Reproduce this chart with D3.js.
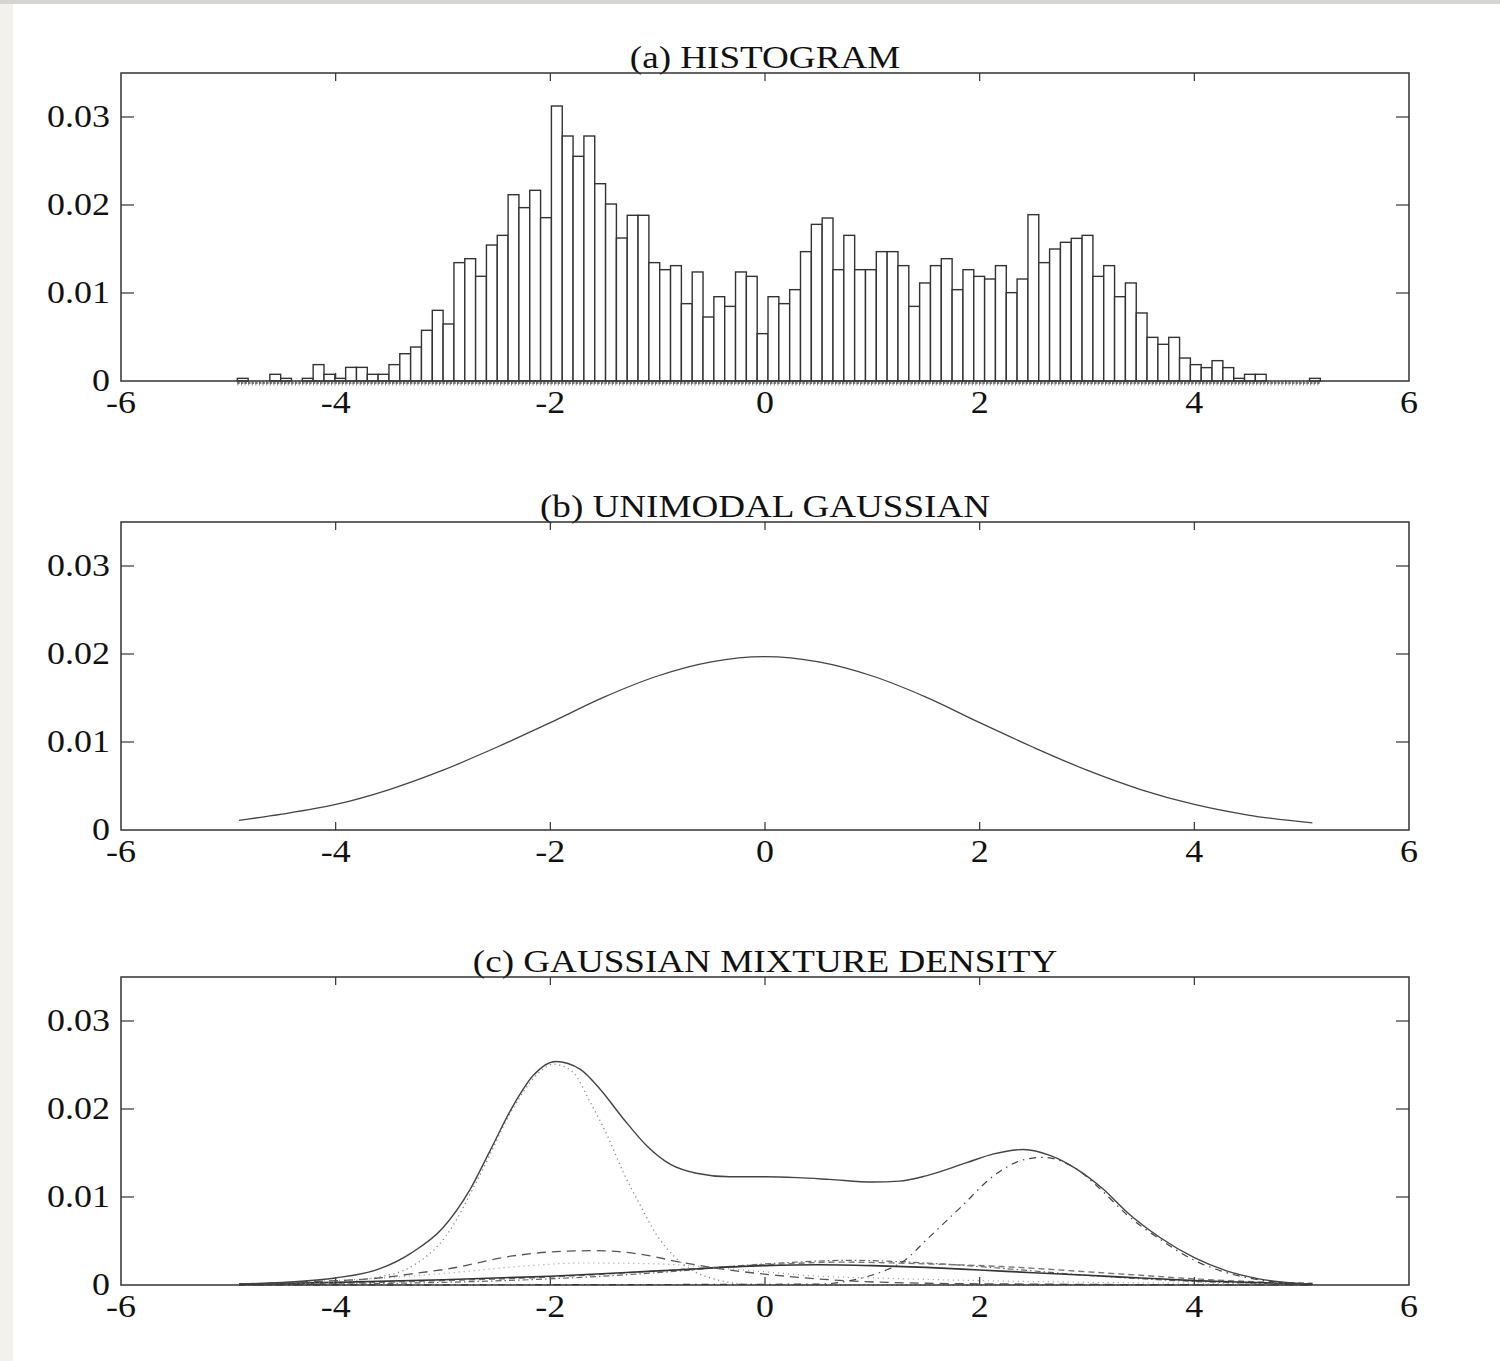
<!DOCTYPE html>
<html>
<head>
<meta charset="utf-8">
<script src="https://cdn.jsdelivr.net/npm/d3@7"></script>
<style>
  html, body { margin: 0; padding: 0; background: #fff; }
  svg { display: block; }
  text { font-family: "Liberation Serif", "DejaVu Serif", serif; fill: #111; }
</style>
</head>
<body>
<div id="chart"></div>
<script>
// histogram: 100 bins, left edge + width
const binStart = -4.916;
const binWidth = 0.1009;
const histDensity = [
  0.0003, 0, 0, 0.00076, 0.0003, 0, 0.0003, 0.00186, 0.00076, 0.0003,
  0.00155, 0.00155, 0.00076, 0.00076, 0.00186, 0.0031, 0.00386, 0.00576, 0.00803, 0.00648,
  0.01345, 0.0139, 0.0119, 0.01545, 0.01655, 0.02117, 0.0197, 0.02167, 0.01856, 0.03125,
  0.02784, 0.02553, 0.02784, 0.02242, 0.02011, 0.01625, 0.01883, 0.01883, 0.01345, 0.01265,
  0.01311, 0.00879, 0.01239, 0.00727, 0.00958, 0.00848, 0.01239, 0.01189, 0.00538, 0.00958,
  0.00879, 0.01038, 0.0147, 0.0178, 0.01852, 0.01265, 0.01655, 0.01265, 0.01265, 0.0147,
  0.0147, 0.01311, 0.00848, 0.01114, 0.01311, 0.0139, 0.01038, 0.01265, 0.01189, 0.01159,
  0.01311, 0.01004, 0.01159, 0.0189, 0.01345, 0.015, 0.01576, 0.01621, 0.01655, 0.01189,
  0.01311, 0.00958, 0.01114, 0.00773, 0.00496, 0.00417, 0.00496, 0.00261, 0.00186, 0.00152,
  0.00231, 0.00152, 0.0003, 0.00076, 0.00076, 0, 0, 0, 0, 0.0003
];

// (b) single gaussian, read at sample points
const unimodal = [
  [-4.9, 0.0011], [-4.5, 0.0018], [-4.0, 0.0029], [-3.5, 0.0046], [-3.0, 0.0068],
  [-2.5, 0.0094], [-2.0, 0.0122], [-1.5, 0.0151], [-1.0, 0.0175], [-0.5, 0.0191],
  [0.0, 0.0197], [0.5, 0.0191], [1.0, 0.0175], [1.5, 0.0151], [2.0, 0.0122],
  [2.5, 0.0094], [3.0, 0.0068], [3.5, 0.0046], [4.0, 0.0029], [4.5, 0.0017], [5.1, 0.0008]
];

// (c) mixture and its components
const mixture = [
  [-4.9, 0.0001], [-4.5, 0.0003], [-4.0, 0.0008], [-3.6, 0.0018], [-3.3, 0.0036],
  [-3.0, 0.0065], [-2.75, 0.0108], [-2.56, 0.0153], [-2.35, 0.0203], [-2.16, 0.0238],
  [-1.95, 0.0254], [-1.72, 0.0245], [-1.54, 0.0223], [-1.32, 0.0189], [-1.10, 0.0158],
  [-0.88, 0.0137], [-0.64, 0.0127], [-0.33, 0.0123], [0.0, 0.0123], [0.3, 0.0122],
  [0.6, 0.0120], [1.0, 0.0117], [1.25, 0.0118], [1.5, 0.0124], [1.88, 0.0139],
  [2.13, 0.0149], [2.41, 0.0154], [2.66, 0.0147], [2.9, 0.0132], [3.15, 0.0109],
  [3.37, 0.0083], [3.68, 0.0054], [4.0, 0.0031], [4.3, 0.0016], [4.6, 0.0007], [5.1, 0.0001]
];
const compNarrow = [
  [-4.9, 0.0], [-4.2, 0.0002], [-3.6, 0.0009], [-3.28, 0.0022], [-2.97, 0.0056],
  [-2.66, 0.0124], [-2.35, 0.0200], [-2.10, 0.0242], [-1.97, 0.0251], [-1.79, 0.0242],
  [-1.63, 0.0208], [-1.47, 0.0170], [-1.32, 0.0128], [-1.16, 0.0090], [-1.01, 0.0057],
  [-0.85, 0.0033], [-0.67, 0.0016], [-0.48, 0.0007], [-0.17, 0.0001], [0.3, 0.0], [5.1, 0.0]
];
const compWideLeft = [
  [-4.9, 0.0001], [-4.2, 0.0004], [-3.59, 0.0008], [-3.21, 0.0014], [-2.97, 0.0018],
  [-2.35, 0.0033], [-1.94, 0.0038], [-1.57, 0.0039], [-1.16, 0.0035], [-0.79, 0.0026],
  [-0.33, 0.0017], [0.11, 0.0011], [0.73, 0.0005], [1.5, 0.0002], [2.5, 0.0001], [5.1, 0.0]
];
const compLowDotted = [
  [-4.9, 0.0001], [-4.0, 0.0005], [-3.0, 0.0013], [-2.3, 0.0021], [-1.7, 0.0025],
  [-1.0, 0.0024], [-0.5, 0.0020], [0.0, 0.0015], [0.5, 0.0010], [1.0, 0.0008],
  [2.0, 0.0005], [3.0, 0.0003], [4.0, 0.0002], [5.1, 0.0001]
];
const compRight = [
  [-4.9, 0.0], [0.5, 0.0001], [0.9, 0.0008], [1.13, 0.0017], [1.29, 0.0027],
  [1.51, 0.0052], [1.82, 0.0088], [2.13, 0.0124], [2.4, 0.0142], [2.59, 0.0145],
  [2.9, 0.0132], [3.15, 0.0106], [3.37, 0.0080], [3.68, 0.0052], [4.0, 0.0028],
  [4.3, 0.0014], [4.6, 0.0006], [5.1, 0.0001]
];
const compBroadA = [
  [-4.9, 0.0001], [-4.0, 0.0003], [-3.0, 0.0006], [-2.0, 0.0010], [-1.0, 0.0016],
  [0.0, 0.0022], [0.5, 0.0023], [1.0, 0.0022], [1.5, 0.0020], [2.0, 0.0017],
  [2.5, 0.0014], [3.0, 0.0011], [3.5, 0.0008], [4.0, 0.0005], [4.5, 0.0003], [5.1, 0.0001]
];
const compBroadB = [
  [-4.9, 0.0001], [-4.0, 0.0002], [-3.0, 0.0005], [-2.0, 0.0009], [-1.0, 0.0016],
  [0.0, 0.0023], [0.7, 0.0026], [1.5, 0.0024], [2.2, 0.0021], [3.0, 0.0015],
  [3.5, 0.0011], [4.0, 0.0007], [4.5, 0.0004], [5.1, 0.0002]
];
const compBroadC = [
  [-4.9, 0.0], [-4.0, 0.0001], [-3.0, 0.0003], [-2.0, 0.0007], [-1.0, 0.0014],
  [0.0, 0.0024], [0.8, 0.0028], [1.5, 0.0025], [2.2, 0.0019], [3.0, 0.0011],
  [4.0, 0.0004], [5.1, 0.0001]
];

const xTicks = [-6, -4, -2, 0, 2, 4, 6];
const yTicks = [0, 0.01, 0.02, 0.03];
const titles = ["(a) HISTOGRAM", "(b) UNIMODAL GAUSSIAN", "(c) GAUSSIAN MIXTURE DENSITY"];

const width = 1500, height = 1361;
const left = 121, right = 1409;
const panelTops = [73, 522, 977];
const panelH = 308;
const stretch = 1.16; // type in the scan is set wide

const svg = d3.select("#chart").append("svg")
    .attr("width", width)
    .attr("height", height);

// scan border
svg.append("rect").attr("x", 0).attr("y", 0).attr("width", 13).attr("height", height).attr("fill", "#f3f1ed");
svg.append("rect").attr("x", 0).attr("y", 0).attr("width", width).attr("height", 4).attr("fill", "#d6d4d0");

const x = d3.scaleLinear().domain([-6, 6]).range([left, right]);

function wideText(g, tx, ty, str, size, anchor) {
    g.append("text")
        .attr("transform", `translate(${tx},${ty}) scale(${stretch},1)`)
        .attr("text-anchor", anchor)
        .style("font-size", size + "px")
        .text(str);
}

function makePanel(i) {
    const top = panelTops[i], bottom = top + panelH;
    const y = d3.scaleLinear().domain([0, 0.035]).range([bottom, top]);
    const g = svg.append("g");

    wideText(g, (left + right) / 2, top - 5, titles[i], 32, "middle");

    // ticks on all four sides, pointing in
    xTicks.slice(1, -1).forEach(t => {
        g.append("line").attr("x1", x(t)).attr("x2", x(t)).attr("y1", bottom).attr("y2", bottom - 8)
            .attr("stroke", "#333").attr("stroke-width", 1.2);
        g.append("line").attr("x1", x(t)).attr("x2", x(t)).attr("y1", top).attr("y2", top + 8)
            .attr("stroke", "#333").attr("stroke-width", 1.2);
    });
    yTicks.slice(1).forEach(t => {
        g.append("line").attr("x1", left).attr("x2", left + 13).attr("y1", y(t)).attr("y2", y(t))
            .attr("stroke", "#333").attr("stroke-width", 1.2);
        g.append("line").attr("x1", right).attr("x2", right - 13).attr("y1", y(t)).attr("y2", y(t))
            .attr("stroke", "#333").attr("stroke-width", 1.2);
    });

    xTicks.forEach(t => wideText(g, x(t), bottom + 32, String(t), 31, "middle"));
    yTicks.forEach(t => wideText(g, left - 11, y(t) + 10, t === 0 ? "0" : d3.format(".2f")(t), 31, "end"));

    return { g, y, top, bottom };
}

const line = y => d3.line()
    .x(d => x(d[0]))
    .y(d => y(Math.max(0, d[1])))
    .curve(d3.curveMonotoneX);

// ---- (a) histogram
{
    const { g, y, top, bottom } = makePanel(0);
    g.selectAll("rect.bar")
        .data(histDensity.map((v, i) => ({ x0: binStart + i * binWidth, v })).filter(d => d.v > 0))
        .enter().append("rect")
        .attr("class", "bar")
        .attr("x", d => x(d.x0))
        .attr("width", x(binWidth) - x(0))
        .attr("y", d => y(d.v))
        .attr("height", d => bottom - y(d.v))
        .attr("fill", "#fff")
        .attr("stroke", "#333")
        .attr("stroke-width", 1.4);

    // data markers along the baseline
    const x0 = x(binStart), x1 = x(binStart + histDensity.length * binWidth);
    g.append("line").attr("x1", x0).attr("x2", x1).attr("y1", bottom + 2).attr("y2", bottom + 2)
        .attr("stroke", "#7d8796").attr("stroke-width", 5).attr("stroke-dasharray", "1,2.6");
    g.append("line").attr("x1", x0).attr("x2", x1).attr("y1", bottom + 2).attr("y2", bottom + 2)
        .attr("stroke", "#555").attr("stroke-width", 1.4).attr("stroke-dasharray", "2.4,1.2");

    g.append("rect").attr("x", left).attr("y", top).attr("width", right - left).attr("height", panelH)
        .attr("fill", "none").attr("stroke", "#333").attr("stroke-width", 1.5);
}

// ---- (b) unimodal gaussian
{
    const { g, y, top } = makePanel(1);
    g.append("path").datum(unimodal).attr("d", line(y))
        .attr("fill", "none").attr("stroke", "#444").attr("stroke-width", 1.3);
    g.append("rect").attr("x", left).attr("y", top).attr("width", right - left).attr("height", panelH)
        .attr("fill", "none").attr("stroke", "#333").attr("stroke-width", 1.5);
}

// ---- (c) mixture
{
    const { g, y, top } = makePanel(2);
    const curves = [
        { d: compBroadC, stroke: "#666", dash: "6,3,1.5,3", w: 1.2 },
        { d: compBroadB, stroke: "#777", dash: "6,4", w: 1.4 },
        { d: compBroadA, stroke: "#333", dash: null, w: 1.6 },
        { d: compLowDotted, stroke: "#999", dash: "1,4", w: 1.2 },
        { d: compWideLeft, stroke: "#555", dash: "9,6", w: 1.3 },
        { d: compRight, stroke: "#444", dash: "7,5,1.5,5", w: 1.2 },
        { d: compNarrow, stroke: "#888", dash: "1.2,3.5", w: 1.3 },
        { d: mixture, stroke: "#444", dash: null, w: 1.4 }
    ];
    curves.forEach(c => {
        g.append("path").datum(c.d).attr("d", line(y))
            .attr("fill", "none")
            .attr("stroke", c.stroke)
            .attr("stroke-width", c.w)
            .attr("stroke-dasharray", c.dash);
    });
    g.append("rect").attr("x", left).attr("y", top).attr("width", right - left).attr("height", panelH)
        .attr("fill", "none").attr("stroke", "#333").attr("stroke-width", 1.5);
}
</script>
</body>
</html>
